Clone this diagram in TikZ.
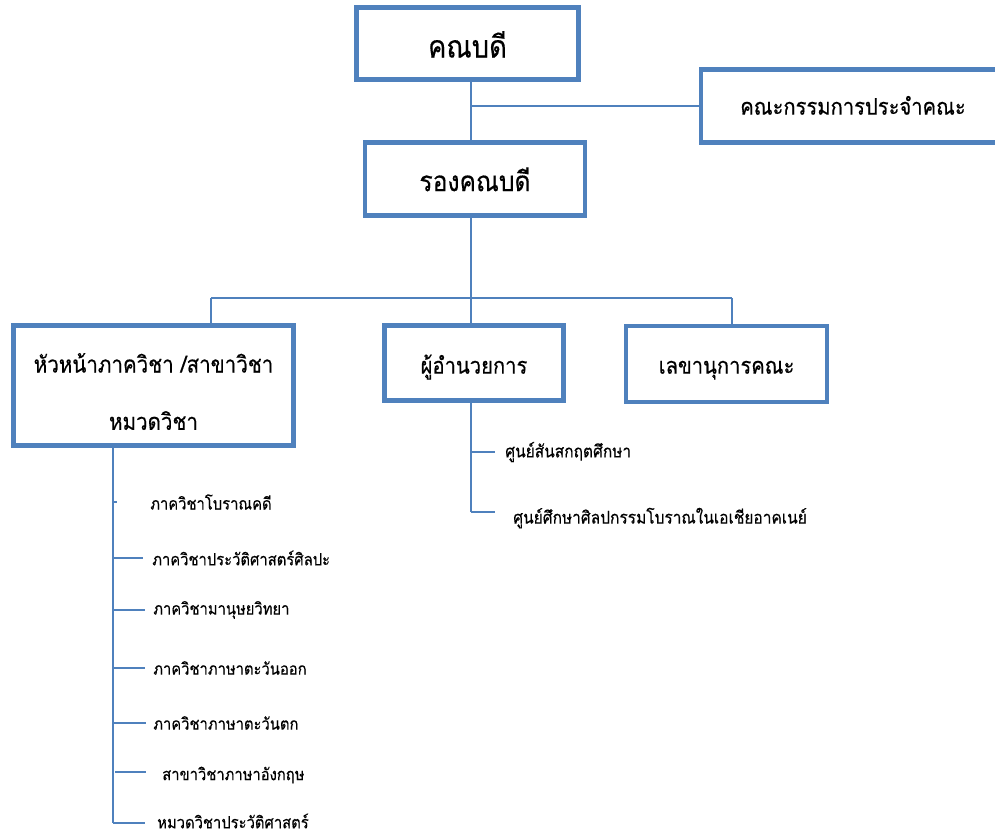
\documentclass[tikz,border=0pt]{standalone}
\usepackage{fontspec}
\newfontfamily\thaifont[Script=Thai,FakeStretch=0.88,FakeBold=0.4]{Loma}
\usetikzlibrary{positioning}
\definecolor{orgblue}{RGB}{79,129,189}

\begin{document}
\begin{tikzpicture}[x=0.75pt,y=-0.75pt,
    box node/.style={draw=orgblue,line width=3.6pt,fill=white,align=center,inner sep=0pt,text depth=0pt},
    item node/.style={anchor=west,inner sep=0pt,font=\thaifont\fontsize{12.6}{15}\selectfont},
    link/.style={draw=orgblue,line width=1.3pt}
  ]
  \useasboundingbox (0,0) rectangle (995,836);
  \clip (0,0) rectangle (995,836);

  % boxes
  \node[box node,minimum width=166.5pt,minimum height=54pt,text height=21pt,font=\thaifont\fontsize{23.3}{28}\selectfont] (dean) at (467.5,43.5) {คณบดี};
  \node[box node,minimum width=228pt,minimum height=54.75pt,text height=13pt,font=\thaifont\fontsize{17.2}{21}\selectfont] (committee) at (853,106) {คณะกรรมการประจำคณะ};
  \node[box node,minimum width=165pt,minimum height=54.75pt,text height=18.2pt,font=\thaifont\fontsize{21}{25}\selectfont] (vice) at (475,179) {รองคณบดี};
  \node[box node,minimum width=210pt,minimum height=90pt] (head) at (153.5,385.5) {};
  \node[align=center,inner sep=0pt,font=\thaifont\fontsize{17.5}{43}\selectfont] (headtext) at ([yshift=-4.5pt]head.center) {หัวหน้าภาควิชา /สาขาวิชา\\หมวดวิชา};
  \node[box node,minimum width=134.25pt,minimum height=56.25pt,text height=16pt,font=\thaifont\fontsize{17.2}{21}\selectfont] (director) at (474,363) {ผู้อำนวยการ};
  \node[box node,minimum width=150.75pt,minimum height=57pt,text height=14.5pt,font=\thaifont\fontsize{17.2}{21}\selectfont] (secretary) at (726.5,364) {เลขานุการคณะ};

  \coordinate (spine) at (471,298);
  \coordinate (busleft) at (211,298);
  \coordinate (busright) at (732,298);
  \coordinate (lefttrunk) at (113,823);
  \coordinate (midtrunk) at (471,512);

  % departments
  \node[item node] (arch) at (150,502) {ภาควิชาโบราณคดี};
  \node[item node] (arthist) at (152,558) {ภาควิชาประวัติศาสตร์ศิลปะ};
  \node[item node] (anthro) at (153,610) {ภาควิชามานุษยวิทยา};
  \node[item node] (eastlang) at (153,668) {ภาควิชาภาษาตะวันออก};
  \node[item node] (westlang) at (153,723) {ภาควิชาภาษาตะวันตก};
  \node[item node] (english) at (162,775) {สาขาวิชาภาษาอังกฤษ};
  \node[item node] (history) at (157,821) {หมวดวิชาประวัติศาสตร์};

  % centres
  \node[item node,font=\thaifont\fontsize{13.2}{15}\selectfont] (sanskrit) at (505,452) {ศูนย์สันสกฤตศึกษา};
  \node[item node,font=\thaifont\fontsize{13.2}{15}\selectfont] (seaart) at (513,518) {ศูนย์ศึกษาศิลปกรรมโบราณในเอเชียอาคเนย์};

  \path[link]
      (spine |- dean.south) edge (spine |- vice.north)
      (spine |- committee.west) edge (committee.west)
      (spine |- vice.south) edge (spine)
      (busleft |- head.north) edge (busleft)
      (busleft) edge (busright)
      (busright) edge (busright |- secretary.north)
      (spine) edge (spine |- director.north);

  \path[link]
      (lefttrunk |- head.south) edge (lefttrunk)
      (lefttrunk |- arch.west) edge ([xshift=-25pt]arch.west)
      (lefttrunk |- arthist.west) edge ([xshift=-6.75pt]arthist.west)
      (lefttrunk |- anthro.west) edge ([xshift=-6pt]anthro.west)
      (lefttrunk |- eastlang.west) edge ([xshift=-6pt]eastlang.west)
      (lefttrunk |- westlang.west) edge ([xshift=-5.25pt]westlang.west)
      ([xshift=1.5pt,yshift=2.25pt]lefttrunk |- english.west) edge ([xshift=-12pt,yshift=2.25pt]english.west)
      (lefttrunk) edge ([xshift=-9pt]history.west |- lefttrunk);

  \path[link]
      (midtrunk |- director.south) edge (midtrunk)
      (midtrunk |- sanskrit.west) edge ([xshift=-7.5pt]sanskrit.west)
      (midtrunk) edge ([xshift=-13.5pt]seaart.west |- midtrunk);
\end{tikzpicture}
\end{document}
